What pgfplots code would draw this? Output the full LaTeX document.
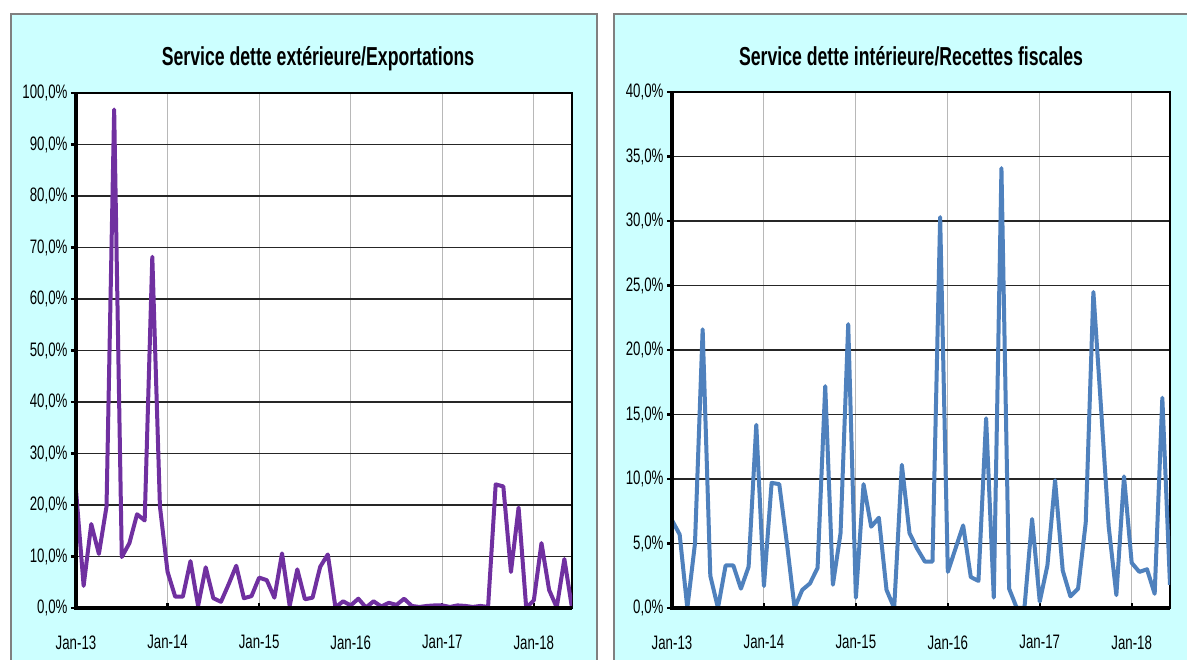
\documentclass[border=0pt]{standalone}
\usepackage{pgfplots}
\pgfplotsset{compat=1.18}
\usepackage{fontspec}
\setmainfont{Liberation Sans}[FakeStretch=0.68]

\definecolor{panelbg}{RGB}{204,255,255}
\definecolor{panelborder}{RGB}{128,128,128}
\definecolor{extline}{RGB}{112,48,160}
\definecolor{intline}{RGB}{79,129,189}

\pgfplotsset{
  panelaxis/.style={
    scale only axis,
    anchor=south west,
    xmin=0, xmax=65, ymin=0,
    xtick={0,12,24,36,48,60},
    xticklabels={Jan-13,Jan-14,Jan-15,Jan-16,Jan-17,Jan-18},
    axis background/.style={fill=white},
    grid=major,
    x grid style={color=black!28, line width=1pt},
    y grid style={color=black!85, line width=1.4pt},
    axis line style={black, line width=1.4pt},
    tick style={black, line width=2.2pt},
    major tick length=5pt,
    tick pos=left,
    xtick align=inside, ytick align=outside,
    ticklabel style={font=\fontsize{19.5}{21}\selectfont},
    xticklabel style={yshift=-24pt},
  }
}

\begin{document}
\begin{tikzpicture}
\useasboundingbox (0pt,0pt) rectangle (1187pt,660pt);
\clip (0pt,0pt) rectangle (1187pt,660pt);
\fill[white] (0pt,0pt) rectangle (1187pt,660pt);
\draw[panelborder, line width=1.5pt, fill=panelbg] (11pt,-10pt) rectangle (597pt,646pt);
\draw[panelborder, line width=1.5pt, fill=panelbg] (614pt,-10pt) rectangle (1200pt,646pt);

\node[anchor=base, font=\fontsize{26}{28}\selectfont\bfseries] at (318pt,594pt) {Service dette extérieure/Exportations};
\node[anchor=base, font=\fontsize{26}{28}\selectfont\bfseries] at (911pt,594pt) {Service dette intérieure/Recettes fiscales};

% Service dette exterieure / Exportations (%)
\begin{axis}[panelaxis, name=ext, at={(76pt,52pt)}, width=496pt, height=515pt,
  ymax=100, ytick={0,10,...,100},
  yticklabels={{0,0\%},{10,0\%},{20,0\%},{30,0\%},{40,0\%},{50,0\%},{60,0\%},{70,0\%},{80,0\%},{90,0\%},{100,0\%}}]
\addplot[extline, line width=4pt, line join=round] coordinates {
(0,22.9) (1,4.3) (2,16.3) (3,10.5) (4,19.7) (5,96.8) (6,9.9) (7,12.6) (8,18.2) (9,17.0)
(10,68.2) (11,19.7) (12,7.0) (13,2.2) (14,2.2) (15,9.1) (16,0.4) (17,7.9) (18,1.9) (19,1.2)
(20,4.6) (21,8.2) (22,1.9) (23,2.3) (24,5.9) (25,5.4) (26,2.0) (27,10.6) (28,0.4) (29,7.5)
(30,1.7) (31,2.0) (32,8.0) (33,10.4) (34,0.1) (35,1.3) (36,0.5) (37,1.8) (38,0.1) (39,1.3)
(40,0.3) (41,1.0) (42,0.6) (43,1.8) (44,0.4) (45,0.2) (46,0.4) (47,0.5) (48,0.5) (49,0.2)
(50,0.5) (51,0.4) (52,0.2) (53,0.4) (54,0.2) (55,24.0) (56,23.6) (57,7.0) (58,19.5) (59,0.0)
(60,1.5) (61,12.6) (62,3.5) (63,0.1) (64,9.5) (65,0.0)
};
\end{axis}
\draw[black, line width=4pt] (ext.north west) -- (ext.south west) -- (ext.south east);

% Service dette interieure / Recettes fiscales (%)
\begin{axis}[panelaxis, name=int, at={(672pt,52pt)}, width=498pt, height=516pt,
  ymax=40, ytick={0,5,...,40},
  yticklabels={{0,0\%},{5,0\%},{10,0\%},{15,0\%},{20,0\%},{25,0\%},{30,0\%},{35,0\%},{40,0\%}}]
\addplot[intline, line width=4pt, line join=round] coordinates {
(0,6.8) (1,5.7) (2,0.0) (3,5.0) (4,21.6) (5,2.5) (6,0.0) (7,3.3) (8,3.3) (9,1.5)
(10,3.2) (11,14.2) (12,1.7) (13,9.7) (14,9.6) (15,5.0) (16,0.0) (17,1.4) (18,1.9) (19,3.1)
(20,17.2) (21,1.8) (22,5.8) (23,22.0) (24,0.8) (25,9.6) (26,6.3) (27,7.0) (28,1.4) (29,0.0)
(30,11.1) (31,5.8) (32,4.6) (33,3.6) (34,3.6) (35,30.3) (36,2.8) (37,4.6) (38,6.4) (39,2.4)
(40,2.1) (41,14.7) (42,0.8) (43,34.1) (44,1.5) (45,0.0) (46,0.0) (47,6.9) (48,0.5) (49,3.3)
(50,9.9) (51,2.9) (52,0.9) (53,1.5) (54,6.6) (55,24.5) (56,15.5) (57,6.3) (58,1.0) (59,10.2)
(60,3.5) (61,2.8) (62,3.0) (63,1.1) (64,16.3) (65,1.8)
};
\end{axis}
\draw[black, line width=4pt] (int.north west) -- (int.south west) -- (int.south east);
\end{tikzpicture}
\end{document}
